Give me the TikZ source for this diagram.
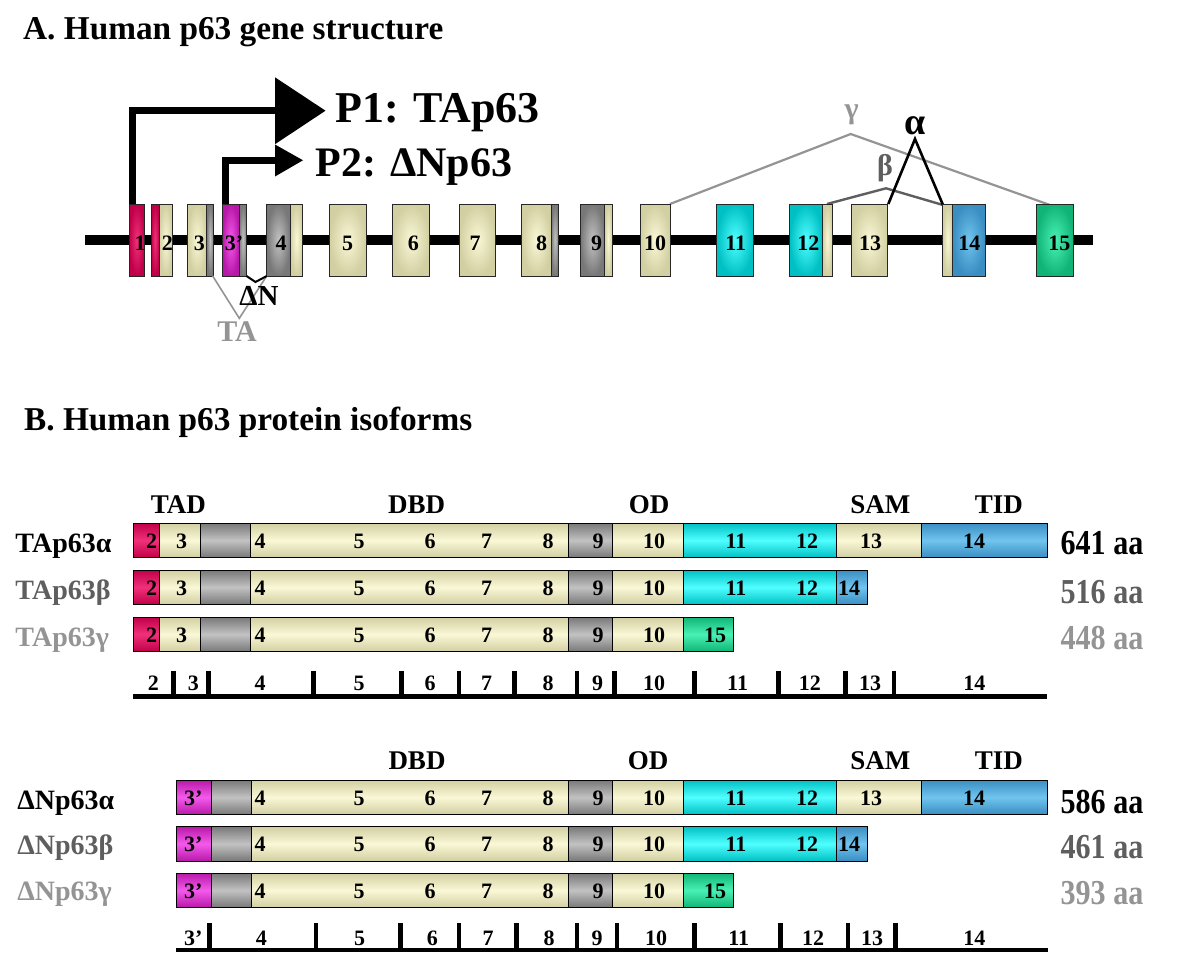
\documentclass[tikz,border=0pt]{standalone}
\usepackage{fontspec}
\setmainfont{Liberation Serif}
\usetikzlibrary{calc}
\definecolor{beigeL}{HTML}{FAF8D6}
\definecolor{beigeD}{HTML}{D2CFA2}
\definecolor{greyL}{HTML}{C2C2C2}
\definecolor{greyD}{HTML}{787878}
\definecolor{redL}{HTML}{F0307A}
\definecolor{redD}{HTML}{C00048}
\definecolor{magL}{HTML}{F45AEC}
\definecolor{magD}{HTML}{B818A8}
\definecolor{cyanL}{HTML}{50FFFF}
\definecolor{cyanD}{HTML}{00C0C4}
\definecolor{blueL}{HTML}{70C4EE}
\definecolor{blueD}{HTML}{3A8EC2}
\definecolor{greenL}{HTML}{48F2B4}
\definecolor{greenD}{HTML}{10B476}
\definecolor{dgrey}{HTML}{5E5E5E}
\definecolor{lgrey}{HTML}{949494}
\newcommand{\gexon}[3]{\path[draw=black!85, line width=0.9pt, inner color=#3L, outer color=#3D] (#1,204) rectangle (#2,276);}
\newcommand{\pseg}[4]{\path[draw=black, line width=0.9pt, top color=#4D, bottom color=#4D, middle color=#4L] (#1,#3) rectangle (#2,#3+34.5);}
\newcommand{\narrow}[1]{\scalebox{0.86}[1]{#1}}
\begin{document}
\begin{tikzpicture}[x=1pt,y=-1pt,
  title/.style={anchor=base west, inner sep=0, font=\fontsize{33.3}{36}\selectfont\bfseries},
  num/.style={inner sep=0, font=\fontsize{22}{22}\selectfont\bfseries},
  dom/.style={anchor=base, inner sep=0, font=\fontsize{27}{30}\selectfont\bfseries},
  iso/.style={anchor=base west, inner sep=0, font=\fontsize{28}{30}\selectfont\bfseries},
  aa/.style={inner sep=0, font=\fontsize{35}{36}\selectfont\bfseries},
  prom/.style={line width=6.5pt, line join=miter},
  tick/.style={line width=4.5pt},
  sbar/.style={line width=4.5pt}]
\useasboundingbox (0,0) rectangle (1200,958);
\fill[white] (0,0) rectangle (1200,958);

% ---------- Titles ----------
\node[title] (titleA) at (23,39.3) {A. Human p63 gene structure};
\node[title] (titleB) at (24,430) {B. Human p63 protein isoforms};

% ---------- Gene backbone ----------
\coordinate (bbL) at (85,240);
\coordinate (bbR) at (1093,240);
\draw[line width=9.5pt] (bbL) -- (bbR);

% ---------- Splice lines (top) ----------
\coordinate (e10TR) at (670,204);
\coordinate (gam) at (850.7,134);
\coordinate (e15TL) at (1050,205);
\coordinate (e12TR) at (827,204);
\coordinate (bet) at (886,188.3);
\coordinate (e14TL) at (943,205);
\coordinate (e13TR) at (888.3,204);
\coordinate (alp) at (915,139);
\draw[line width=2.2pt, color=lgrey] (e10TR) -- (gam) -- (e15TL);
\draw[line width=2.4pt, color=dgrey] (e12TR) -- (bet) -- (e14TL);
\draw[line width=2.6pt, line join=miter] (e13TR) -- (alp) -- (e14TL);
\node[inner sep=0, text=lgrey, font=\fontsize{30}{30}\selectfont\bfseries] (lgam) at (851.7,115) {γ};
\node[inner sep=0, text=dgrey, font=\fontsize{30}{30}\selectfont\bfseries] (lbet) at (885,168) {β};
\node[inner sep=0, font=\fontsize{38}{38}\selectfont\bfseries] (lalp) at (915,126) {α};

% ---------- Promoters ----------
\coordinate (e1top) at (132.5,204);
\coordinate (p1b) at (276,110.7);
\coordinate (e3ptop) at (225.3,204);
\coordinate (p2b) at (276,160.3);
\draw[prom] (e1top) |- (p1b);
\draw[prom] (e3ptop) |- (p2b);
\fill (275,77.3) -- (325.5,110.7) -- (275,144.2) -- cycle;
\fill (275,144.5) -- (303,160.3) -- (275,176.5) -- cycle;
\node[anchor=base west, inner sep=0, font=\fontsize{44}{44}\selectfont\bfseries] (P1) at (335,122.7) {P1: TAp63};
\node[anchor=base west, inner sep=0, font=\fontsize{42}{42}\selectfont\bfseries] (P2) at (315.5,176.7) {P2: ΔNp63};

% ---------- Exons ----------
\gexon{129.3}{144.3}{red}
\gexon{151}{159}{red}\gexon{159}{172.3}{beige}
\gexon{187.3}{206.7}{beige}\gexon{206.7}{213.3}{grey}
\gexon{222.3}{239}{mag}\gexon{239}{246.7}{grey}
\gexon{266.7}{290}{grey}\gexon{290}{302.7}{beige}
\gexon{329.3}{366}{beige}
\gexon{392.7}{429.3}{beige}
\gexon{459}{495.7}{beige}
\gexon{521.7}{551}{beige}\gexon{551}{558.7}{grey}
\gexon{580.3}{604.3}{grey}\gexon{604.3}{612}{beige}
\gexon{640}{670}{beige}
\gexon{716.7}{753.3}{cyan}
\gexon{789.7}{822.3}{cyan}\gexon{822.3}{832.3}{beige}
\gexon{851}{887.7}{beige}
\gexon{942.7}{952.7}{beige}\gexon{952.7}{985}{blue}
\gexon{1036.7}{1073.3}{green}
\foreach \x/\t [count=\i] in {140/1,167.3/2,199.3/3,234/3’,281/4,347.7/5,413.3/6,475/7,541.7/8,596.7/9,655/10,735.7/11,808.3/12,870/13,969.3/14,1059.3/15}
  \node[num] (gn\i) at (\x,243.3) {\t};

% ---------- Lower splice (TA / DeltaN) ----------
\coordinate (e3BR) at (212.7,276);
\coordinate (taV) at (239.3,318.3);
\coordinate (e4BL) at (266.7,276);
\coordinate (e3pBR) at (246.5,276);
\coordinate (dnV) at (255.5,282);
\draw[line width=1.6pt, color=lgrey] (e3BR) -- (taV) -- (e4BL);
\draw[line width=2pt] (e3pBR) -- (dnV) -- (e4BL);
\node[inner sep=0, text=lgrey, font=\fontsize{30}{30}\selectfont\bfseries] (lTA) at (237,332) {TA};
\node[inner sep=0, font=\fontsize{29}{29}\selectfont\bfseries] (lDN) at (259,296) {ΔN};

% ---------- TA isoforms ----------
\foreach \x/\t in {178.3/TAD,416.7/DBD,649/OD,880.4/SAM,998.8/TID}
  \node[dom] at (\x,513.3) {\t};
\foreach \T in {523,570,617}{
  \pseg{133.3}{159}{\T}{red}
  \pseg{159}{200}{\T}{beige}
  \pseg{200}{250.7}{\T}{grey}
  \pseg{250.7}{568.3}{\T}{beige}
  \pseg{568.3}{612.2}{\T}{grey}
  \pseg{612.2}{683.3}{\T}{beige}
  \foreach \x/\t in {151.7/2,181.7/3,260/4,359/5,430/6,486.7/7,548/8,598/9,654/10}
    \node[num] at (\x,\T+18) {\t};
}
% alpha
\pseg{683.3}{836.7}{523}{cyan}
\pseg{836.7}{921.2}{523}{beige}
\pseg{921.2}{1047.8}{523}{blue}
\foreach \x/\t in {736/11,807/12,871/13,974/14}
  \node[num] at (\x,541) {\t};
% beta
\pseg{683.3}{836.7}{570}{cyan}
\pseg{836.7}{867}{570}{blue}
\foreach \x/\t in {736/11,807/12,849/14}
  \node[num] at (\x,588) {\t};
% gamma
\pseg{683.3}{733.5}{617}{green}
\node[num] at (715,635) {15};
\node[iso] (ta1) at (15.3,552.5) {TAp63α};
\node[iso, text=dgrey] (ta2) at (15.3,599) {TAp63β};
\node[iso, text=lgrey] (ta3) at (15.3,646) {TAp63γ};
\node[aa] (aa1) at (1102,543.3) {\narrow{641 aa}};
\node[aa, text=dgrey] (aa2) at (1102,591.7) {\narrow{516 aa}};
\node[aa, text=lgrey] (aa3) at (1102,638.3) {\narrow{448 aa}};
% scale bar
\coordinate (sbL) at (133.3,696.7);
\coordinate (sbR) at (1047,696.7);
\draw[sbar] (sbL) -- (sbR);
\foreach \x in {173.3,208.3,313.3,401.7,459,514.7,577,614.3,694.7,778.4,845.7,893.9}
  \draw[tick] (\x,670.7) -- (\x,698);
\foreach \x/\t in {153.3/2,193.3/3,260/4,359/5,430/6,486.7/7,548/8,597.6/9,654/10,737.6/11,809.8/12,870.2/13,974.3/14}
  \node[num] at (\x,683.3) {\t};

% ---------- DeltaN isoforms ----------
\foreach \x/\t in {417/DBD,648/OD,880.4/SAM,998.8/TID}
  \node[dom] at (\x,769.3) {\t};
\foreach \T in {780,826.5,873}{
  \pseg{176}{211.6}{\T}{mag}
  \pseg{211.6}{251.4}{\T}{grey}
  \pseg{251.4}{568.3}{\T}{beige}
  \pseg{568.3}{612.2}{\T}{grey}
  \pseg{612.2}{683.3}{\T}{beige}
  \foreach \x/\t in {193.3/3’,260/4,359/5,430/6,486.7/7,548/8,598/9,654/10}
    \node[num] at (\x,\T+18) {\t};
}
\pseg{683.3}{836.7}{780}{cyan}
\pseg{836.7}{921.2}{780}{beige}
\pseg{921.2}{1047.8}{780}{blue}
\foreach \x/\t in {736/11,807/12,871/13,974/14}
  \node[num] at (\x,798) {\t};
\pseg{683.3}{836.7}{826.5}{cyan}
\pseg{836.7}{867}{826.5}{blue}
\foreach \x/\t in {736/11,807/12,849/14}
  \node[num] at (\x,844.5) {\t};
\pseg{683.3}{733.5}{873}{green}
\node[num] at (715,891) {15};
\node[iso] (dn1) at (17.2,809) {ΔNp63α};
\node[iso, text=dgrey] (dn2) at (17.2,854) {ΔNp63β};
\node[iso, text=lgrey] (dn3) at (17.2,900.5) {ΔNp63γ};
\node[aa] (aa4) at (1102,801.7) {\narrow{586 aa}};
\node[aa, text=dgrey] (aa5) at (1102,846.7) {\narrow{461 aa}};
\node[aa, text=lgrey] (aa6) at (1102,893.3) {\narrow{393 aa}};
\coordinate (sb2L) at (176,950);
\coordinate (sb2R) at (1047.8,950);
\draw[sbar] (sb2L) -- (sb2R);
\foreach \x in {209.7,316.1,400.7,459.2,516.6,577,617,694.7,780.4,847.8,895.5}
  \draw[tick] (\x,923.3) -- (\x,951.5);
\foreach \x/\t in {193.3/3’,261.4/4,359.7/5,432.4/6,488/7,549.2/8,597/9,656/10,738.8/11,813/12,872/13,974.3/14}
  \node[num] at (\x,938) {\t};
\end{tikzpicture}
\end{document}
